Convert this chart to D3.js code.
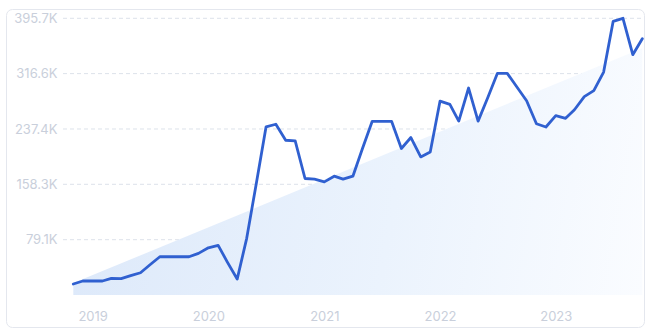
<!DOCTYPE html>
<html>
<head>
<meta charset="utf-8">
<script src="https://cdn.jsdelivr.net/npm/d3@7"></script>
<style>
  html, body { margin: 0; padding: 0; background: #fff; }
  #chart { width: 651px; height: 333px; }
  text { font-family: Inter, "Noto Sans", sans-serif; }
</style>
</head>
<body>
<div id="chart"></div>
<script>
// monthly points, Nov 2018 .. Oct 2023
const months = [
  "2018-11", "2018-12",
  "2019-01", "2019-02", "2019-03", "2019-04", "2019-05", "2019-06", "2019-07", "2019-08", "2019-09", "2019-10", "2019-11", "2019-12",
  "2020-01", "2020-02", "2020-03", "2020-04", "2020-05", "2020-06", "2020-07", "2020-08", "2020-09", "2020-10", "2020-11", "2020-12",
  "2021-01", "2021-02", "2021-03", "2021-04", "2021-05", "2021-06", "2021-07", "2021-08", "2021-09", "2021-10", "2021-11", "2021-12",
  "2022-01", "2022-02", "2022-03", "2022-04", "2022-05", "2022-06", "2022-07", "2022-08", "2022-09", "2022-10", "2022-11", "2022-12",
  "2023-01", "2023-02", "2023-03", "2023-04", "2023-05", "2023-06", "2023-07", "2023-08", "2023-09", "2023-10"
];

const traffic = [
  15700, 20000,
  20000, 20000, 23800, 23300, 27600, 31800, 43300, 54700, 54700, 54700, 54700, 59500,
  67500, 71000, 47100, 22800, 81000, 161300, 240300, 244200, 221300, 220300, 166600, 165600,
  161800, 169900, 165600, 169900, 209200, 248400, 248400, 248400, 209500, 225200, 197500, 204600,
  277300, 272700, 248700, 296000, 248700, 282700, 317000, 317000, 297000, 277700, 244900, 240300,
  256600, 252700, 264900, 283700, 292300, 318800, 391200, 395700, 343700, 366500
];

// shaded trend band: value at first and last month
const trendMonths = ["2018-11", "2023-10"];
const trendValues = [17000, 353000];

const yTicks = [79100, 158300, 237400, 316600, 395700];
const yearTicks = ["2019-01", "2020-01", "2021-01", "2022-01", "2023-01"];

const width = 651, height = 333;
const parse = d3.timeParse("%Y-%m");

const svg = d3.select("#chart")
  .append("svg")
  .attr("width", width)
  .attr("height", height);

const defs = svg.append("defs");
const grad = defs.append("linearGradient")
  .attr("id", "trendFill")
  .attr("gradientUnits", "userSpaceOnUse")
  .attr("x1", 73).attr("y1", 200)
  .attr("x2", 640).attr("y2", 300);
grad.append("stop").attr("offset", "0%").attr("stop-color", "#dde9fa");
grad.append("stop").attr("offset", "55%").attr("stop-color", "#ebf3fd");
grad.append("stop").attr("offset", "100%").attr("stop-color", "#fafcff");

// card
svg.append("rect")
  .attr("x", 6.5).attr("y", 9.5)
  .attr("width", 638).attr("height", 318)
  .attr("rx", 6)
  .attr("fill", "#fff")
  .attr("stroke", "#e4e7ee");

const x = d3.scaleTime()
  .domain([parse(months[0]), parse(months[months.length - 1])])
  .range([73.3, 642.3]);

const y = d3.scaleLinear()
  .domain([0, 395700])
  .range([295, 18.3]);

// grid lines
svg.append("g")
  .selectAll("line")
  .data(yTicks)
  .enter()
  .append("line")
  .attr("x1", 63)
  .attr("x2", 642)
  .attr("y1", d => y(d))
  .attr("y2", d => y(d))
  .attr("stroke", "#dde2ea")
  .attr("stroke-dasharray", "4,3");

// y labels
const fmt = d => (d / 1000).toFixed(1) + "K";
svg.append("g")
  .selectAll("text")
  .data(yTicks)
  .enter()
  .append("text")
  .attr("x", 57.5)
  .attr("y", d => y(d))
  .attr("dy", "0.36em")
  .attr("text-anchor", "end")
  .attr("font-size", 13)
  .attr("fill", "#c9cfdb")
  .text(fmt);

// trend area
const band = trendMonths.map((m, i) => ({ date: parse(m), v: trendValues[i] }));
svg.append("path")
  .datum(band)
  .attr("d", d3.area()
    .x(d => x(d.date))
    .y0(y(0))
    .y1(d => y(d.v)))
  .attr("fill", "url(#trendFill)");

// x axis labels
const xAxis = svg.append("g")
  .attr("transform", "translate(0,296)")
  .call(d3.axisBottom(x)
    .tickValues(yearTicks.map(parse))
    .tickFormat(d3.timeFormat("%Y"))
    .tickSize(0)
    .tickPadding(16));
xAxis.select(".domain").remove();
xAxis.selectAll("text")
  .attr("font-family", "Inter, 'Noto Sans', sans-serif")
  .attr("font-size", 13)
  .attr("fill", "#c9cfdb");

// line
const points = months.map((m, i) => ({ date: parse(m), v: traffic[i] }));
svg.append("path")
  .datum(points)
  .attr("d", d3.line()
    .x(d => x(d.date))
    .y(d => y(d.v)))
  .attr("fill", "none")
  .attr("stroke", "#3060d0")
  .attr("stroke-width", 2.8)
  .attr("stroke-linejoin", "round")
  .attr("stroke-linecap", "round");
</script>
</body>
</html>
